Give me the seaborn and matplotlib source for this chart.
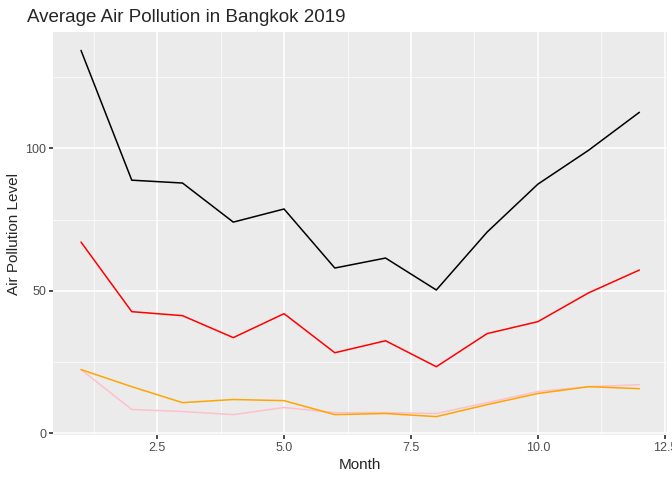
import pandas as pd
import matplotlib
matplotlib.use("Agg")
import matplotlib.pyplot as plt
import seaborn as sns
from matplotlib.ticker import MultipleLocator, FormatStrFormatter

months = list(range(1, 13))
pm25 = [134.3, 88.8, 87.8, 74.1, 78.7, 58.0, 61.5, 50.3, 70.6, 87.4, 99.3, 112.6]
pm10 = [67.1, 42.7, 41.3, 33.6, 42.0, 28.3, 32.5, 23.4, 35.0, 39.2, 49.3, 57.3]
o3 = [22.4, 16.4, 10.8, 11.9, 11.5, 6.6, 7.0, 5.9, 10.1, 14.0, 16.4, 15.7]
no2 = [22.4, 8.4, 7.7, 6.6, 9.1, 7.3, 7.3, 7.0, 10.8, 14.7, 16.4, 17.1]

series = {"pm25": pm25, "pm10": pm10, "o3": o3, "no2": no2}
colors = {"pm25": "black", "pm10": "red", "o3": "orange", "no2": "pink"}

df = pd.DataFrame({"Month": months * 4,
                   "Level": pm25 + pm10 + o3 + no2,
                   "Pollutant": [k for k in series for _ in months]})

sns.set_theme(style="darkgrid", rc={"axes.facecolor": "#EBEBEB", "grid.color": "white"})
plt.rcParams["font.family"] = ["Liberation Sans", "DejaVu Sans"]

fig, ax = plt.subplots(figsize=(6.72, 4.8), dpi=100)
fig.subplots_adjust(left=0.079, right=0.993, top=0.933, bottom=0.094)

# pink first so orange sits on top like the reference
for key in ["pm25", "pm10", "no2", "o3"]:
    sns.lineplot(data=df[df["Pollutant"] == key], x="Month", y="Level",
                 color=colors[key], linewidth=1.1, ax=ax, legend=False)

ax.set_xlim(0.45, 12.55)
ax.set_ylim(-0.5, 140.7)
ax.xaxis.set_major_locator(MultipleLocator(2.5))
ax.xaxis.set_minor_locator(MultipleLocator(1.25))
ax.xaxis.set_major_formatter(FormatStrFormatter("%.1f"))
ax.yaxis.set_major_locator(MultipleLocator(50))
ax.yaxis.set_minor_locator(MultipleLocator(25))
ax.grid(which="major", color="white", linewidth=1.1)
ax.grid(which="minor", color="white", linewidth=0.5)
ax.tick_params(which="major", length=3, color="#333333", labelsize=9, labelcolor="#4D4D4D", pad=2)
ax.tick_params(which="minor", length=0)
ax.tick_params(axis="both", bottom=True, left=True)
for s in ax.spines.values():
    s.set_visible(False)

ax.set_xlabel("Month", fontsize=11, labelpad=3)
ax.set_ylabel("Air Pollution Level", fontsize=11, labelpad=3)
ax.set_title("Average Air Pollution in Bangkok 2019", fontsize=13.5, loc="left", x=-0.042, pad=7)

fig.savefig("out.png", dpi=100)
